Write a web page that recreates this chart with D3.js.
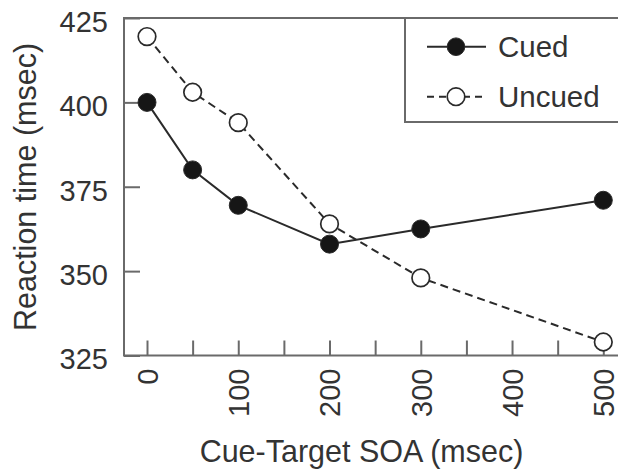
<!DOCTYPE html>
<html>
<head>
<meta charset="utf-8">
<script src="https://cdn.jsdelivr.net/npm/d3@7"></script>
<style>
  html, body { margin: 0; padding: 0; background: #fff; }
  svg { display: block; }
  text { font-family: "Liberation Sans", Arial, Helvetica, sans-serif; fill: #333; }
</style>
</head>
<body>
<svg id="chart" width="618" height="470"></svg>
<script>
// ---- data ----
const soa = [0, 50, 100, 200, 300, 500];
const cued = [400, 380, 369.5, 358, 362.5, 371];
const uncued = [419.5, 403, 394, 364, 348, 329];
const yTicks = [325, 350, 375, 400, 425];
const xTicks = [0, 50, 100, 150, 200, 250, 300, 350, 400, 450, 500];
const xLabels = [0, 100, 200, 300, 400, 500];
const seriesNames = ["Cued", "Uncued"];

(function () {
const svg = d3.select("#chart");
const axisColor = "#6a6a6a";
const ink = "#2a2a2a";

const mLeft = 124, mTop = 18, mBottom = 355.5;
const x = d3.scaleLinear().domain([0, 500]).range([147, 603.3]);
const y = d3.scaleLinear().domain([325, 425]).range([mBottom, mTop]);

// frame (right side lies beyond the picture)
svg.append("path")
  .attr("d", `M640,${mTop} H${mLeft} V${mBottom} H640`)
  .attr("fill", "none").attr("stroke", axisColor).attr("stroke-width", 2);

// y axis
const yAxis = d3.axisLeft(y).tickValues(yTicks).tickSizeInner(-16).tickSizeOuter(0).tickPadding(16);
const gy = svg.append("g").attr("transform", `translate(${mLeft},0)`).call(yAxis);
gy.select(".domain").remove();
gy.selectAll(".tick line").attr("stroke", axisColor).attr("stroke-width", 2);
gy.selectAll(".tick text")
  .attr("font-size", 29).attr("fill", "#333")
  .attr("x", -16).attr("dy", "0.46em")
  .style("font-family", '"Liberation Sans", Arial, sans-serif');

// x axis
const xAxis = d3.axisBottom(x).tickValues(xTicks).tickSizeInner(-15).tickSizeOuter(0)
  .tickFormat(d => xLabels.includes(d) ? String(d) : "");
const gx = svg.append("g").attr("transform", `translate(0,${mBottom})`).call(xAxis);
gx.select(".domain").remove();
gx.selectAll(".tick line").attr("stroke", axisColor).attr("stroke-width", 2);
gx.selectAll(".tick text")
  .attr("font-size", 29).attr("fill", "#333")
  .attr("transform", "rotate(-90)")
  .attr("text-anchor", "end")
  .attr("x", -13).attr("y", 0).attr("dy", "0.36em")
  .style("font-family", '"Liberation Sans", Arial, sans-serif');

// axis titles
svg.append("text")
  .attr("x", 361.5).attr("y", 461.5)
  .attr("text-anchor", "middle").attr("font-size", 30.5)
  .text("Cue-Target SOA (msec)");
svg.append("text")
  .attr("transform", "translate(36,187) rotate(-90)")
  .attr("text-anchor", "middle").attr("font-size", 30.5)
  .text("Reaction time (msec)");

// series
const pts = (vals) => soa.map((s, i) => [s, vals[i]]);
const line = d3.line().x(d => x(d[0])).y(d => y(d[1]));

// uncued (dashed, open)
svg.append("path").datum(pts(uncued))
  .attr("d", line).attr("fill", "none")
  .attr("stroke", ink).attr("stroke-width", 2).attr("stroke-dasharray", "8,5");
svg.append("g").selectAll("circle").data(pts(uncued)).join("circle")
  .attr("cx", d => x(d[0])).attr("cy", d => y(d[1])).attr("r", 8.8)
  .attr("fill", "#fff").attr("stroke", ink).attr("stroke-width", 1.7);

// cued (solid, filled)
svg.append("path").datum(pts(cued))
  .attr("d", line).attr("fill", "none")
  .attr("stroke", ink).attr("stroke-width", 2);
svg.append("g").selectAll("circle").data(pts(cued)).join("circle")
  .attr("cx", d => x(d[0])).attr("cy", d => y(d[1])).attr("r", 9)
  .attr("fill", "#161616").attr("stroke", ink).attr("stroke-width", 1);

// legend
const lg = svg.append("g");
lg.append("path")
  .attr("d", `M640,${mTop} H405 V122 H640`)
  .attr("fill", "#fff").attr("stroke", axisColor).attr("stroke-width", 2);
const legendRows = [
  { name: seriesNames[0], cy: 46.7, dash: null, fill: "#161616" },
  { name: seriesNames[1], cy: 96.7, dash: "7,5", fill: "#fff" }
];
legendRows.forEach(r => {
  lg.append("line").attr("x1", 427).attr("x2", 486).attr("y1", r.cy).attr("y2", r.cy)
    .attr("stroke", ink).attr("stroke-width", 2)
    .attr("stroke-dasharray", r.dash);
  lg.append("circle").attr("cx", 456).attr("cy", r.cy).attr("r", 8.8)
    .attr("fill", r.fill).attr("stroke", ink).attr("stroke-width", r.dash ? 1.7 : 1);
  lg.append("text").attr("x", 498).attr("y", r.cy + 10)
    .attr("font-size", 29.5).text(r.name);
});
})();
</script>
</body>
</html>
